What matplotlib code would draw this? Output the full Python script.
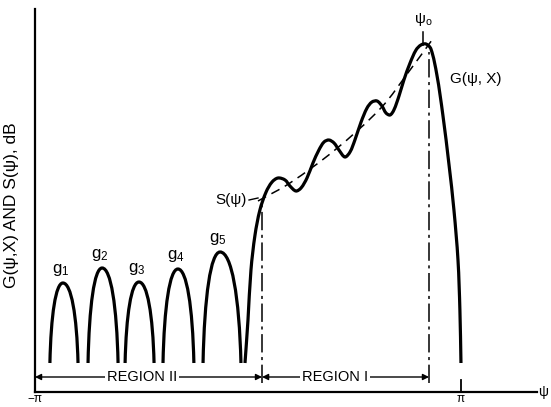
import numpy as np
import matplotlib
matplotlib.use("Agg")
import matplotlib.pyplot as plt
from matplotlib.path import Path
from matplotlib.patches import PathPatch

plt.rcParams['font.family'] = ['Liberation Sans', 'DejaVu Sans']
plt.rcParams['mathtext.fontset'] = 'custom'
plt.rcParams['mathtext.rm'] = 'Liberation Sans'

# x in units of psi/pi, y in dB (arbitrary reference)
FLOOR = 2.9
lobe_names = ["1", "2", "3", "4", "5"]
lobe_left = [-0.930, -0.751, -0.577, -0.399, -0.211]
lobe_peak_x = [-0.869, -0.685, -0.512, -0.329, -0.131]
lobe_right = [-0.798, -0.610, -0.441, -0.254, -0.033]
lobe_peak_db = [10.9, 12.4, 11.0, 12.3, 14.0]

# main beam G(psi, X)
main_x = [-0.014, 0.000, 0.014, 0.033, 0.056, 0.085, 0.113, 0.141, 0.174, 0.197,
          0.225, 0.249, 0.277, 0.305, 0.333, 0.357, 0.380, 0.404, 0.427, 0.455,
          0.479, 0.502, 0.531, 0.559, 0.582, 0.606, 0.629, 0.648, 0.667, 0.685,
          0.709, 0.732, 0.761, 0.789, 0.812, 0.836, 0.859, 0.887, 0.915, 0.944,
          0.967, 0.986, 0.995, 1.000]
main_db = [2.9, 7.2, 12.2, 15.7, 18.2, 20.0, 21.0, 21.4, 21.2, 20.6,
           20.1, 20.4, 21.4, 22.9, 24.2, 25.0, 25.2, 24.9, 24.2, 23.5,
           24.0, 25.2, 27.0, 28.4, 29.0, 29.1, 28.6, 27.9, 27.7, 28.2,
           29.6, 31.2, 32.9, 34.2, 34.7, 34.8, 34.3, 31.7, 27.7, 22.7,
           18.2, 13.2, 8.2, 2.9]

# envelope S(psi)
s_x = [0.047, 0.197, 0.408, 0.624, 0.761, 0.864]
s_db = [19.1, 20.9, 24.2, 28.4, 32.2, 35.2]

region_edges = [-1.0, 0.066, 0.850]
region_names = ["REGION II", "REGION I"]
psi0 = 0.822

XS, YS = 213.0, 10.0  # pixels per data unit, used for chord lengths


def smooth(xs, ys):
    # chord-length catmull-rom, handed to matplotlib as bezier segments
    p = np.column_stack([xs, ys]).astype(float)
    n = len(p)
    sc = np.array([XS, YS])
    d = np.linalg.norm(np.diff(p * sc, axis=0), axis=1)
    tang = np.zeros_like(p)
    for i in range(n):
        if i == 0:
            tang[i] = (p[1] - p[0]) / d[0]
        elif i == n - 1:
            tang[i] = (p[-1] - p[-2]) / d[-1]
        else:
            tang[i] = (p[i + 1] - p[i - 1]) / (d[i - 1] + d[i])
    verts = [p[0]]
    codes = [Path.MOVETO]
    for i in range(n - 1):
        verts += [p[i] + tang[i] * d[i] / 3, p[i + 1] - tang[i + 1] * d[i] / 3, p[i + 1]]
        codes += [Path.CURVE4] * 3
    return Path(verts, codes)


def arch(xl, xp, xr, top):
    h = top - FLOOR
    verts = [(xl, FLOOR),
             (xl + 0.08 * (xp - xl), FLOOR + 0.6 * h), (xp - 0.55 * (xp - xl), top), (xp, top),
             (xp + 0.55 * (xr - xp), top), (xr - 0.08 * (xr - xp), FLOOR + 0.6 * h), (xr, FLOOR)]
    codes = [Path.MOVETO] + [Path.CURVE4] * 6
    return Path(verts, codes)


fig = plt.figure(figsize=(5.51, 4.07), dpi=100)
ax = fig.add_axes([35 / 551, 15 / 407, 502 / 551, 383 / 407])
ax.set_xlim(-1, 1.357)
ax.set_ylim(0, 38.3)

for xl, xp, xr, top, n in zip(lobe_left, lobe_peak_x, lobe_right, lobe_peak_db, lobe_names):
    ax.add_patch(PathPatch(arch(xl, xp, xr, top), fill=False, lw=2.3, color="black",
                           capstyle="butt"))
    ax.text(xp - 0.01, top + 1.3, r"$\mathregular{g_%s}$" % n, ha="center", va="center",
            fontsize=12)

ax.add_patch(PathPatch(smooth(main_x, main_db), fill=False, lw=2.3, color="black",
                       capstyle="butt", joinstyle="round"))
ax.add_patch(PathPatch(smooth(s_x, s_db), fill=False, lw=1.1, color="black",
                       linestyle=(0, (6, 4))))

# region boundaries
ax.plot([region_edges[1]] * 2, [0.9, 18.7], color="black", lw=1.1,
        linestyle=(0, (12, 3, 2, 3)))
ax.plot([region_edges[2]] * 2, [0.9, 34.0], color="black", lw=1.1,
        linestyle=(0, (12, 3, 2, 3)))

for i, name in enumerate(region_names):
    x0, x1 = region_edges[i], region_edges[i + 1]
    ax.annotate("", xy=(x0, 1.5), xytext=(x1, 1.5),
                arrowprops=dict(arrowstyle="<|-|>", color="black", lw=1.0,
                                shrinkA=0, shrinkB=0, mutation_scale=9))
    xm = -0.498 if i == 0 else 0.408
    ax.text(xm, 1.5, name, ha="center", va="center", fontsize=10.5,
            bbox=dict(facecolor="white", edgecolor="none", pad=1.5))

# psi_o marker and labels
ax.plot([psi0, psi0], [34.7, 36.0], color="black", lw=1.1)
ax.text(psi0, 37.2, r"$\mathregular{ψ_o}$", ha="center", va="center", fontsize=11)
ax.text(0.948, 31.3, "G(ψ, X)", ha="left", va="center", fontsize=11)
ax.text(-0.005, 19.2, "S(ψ)", ha="right", va="center", fontsize=11)
ax.plot([0.005, 0.047], [19.2, 19.4], color="black", lw=1.0)

# axes
for s in ["top", "right"]:
    ax.spines[s].set_visible(False)
ax.spines["left"].set_linewidth(1.6)
ax.spines["bottom"].set_linewidth(1.6)
ax.set_xticks([])
ax.set_yticks([])
ax.plot([1.0, 1.0], [0, 1.2], color="black", lw=1.3, clip_on=False)
ax.text(-1.0, -0.75, "−π", ha="center", va="center", fontsize=8.5)
ax.text(1.0, -0.75, "π", ha="center", va="center", fontsize=8.5)
ax.text(1.362, 0.0, "ψ", ha="left", va="center", fontsize=10, clip_on=False)

fig.text(12 / 551, 1 - 205 / 407, "G(ψ,X) AND S(ψ), dB", rotation=90,
         ha="center", va="center", fontsize=12.5)

fig.savefig("out.png", dpi=100)
